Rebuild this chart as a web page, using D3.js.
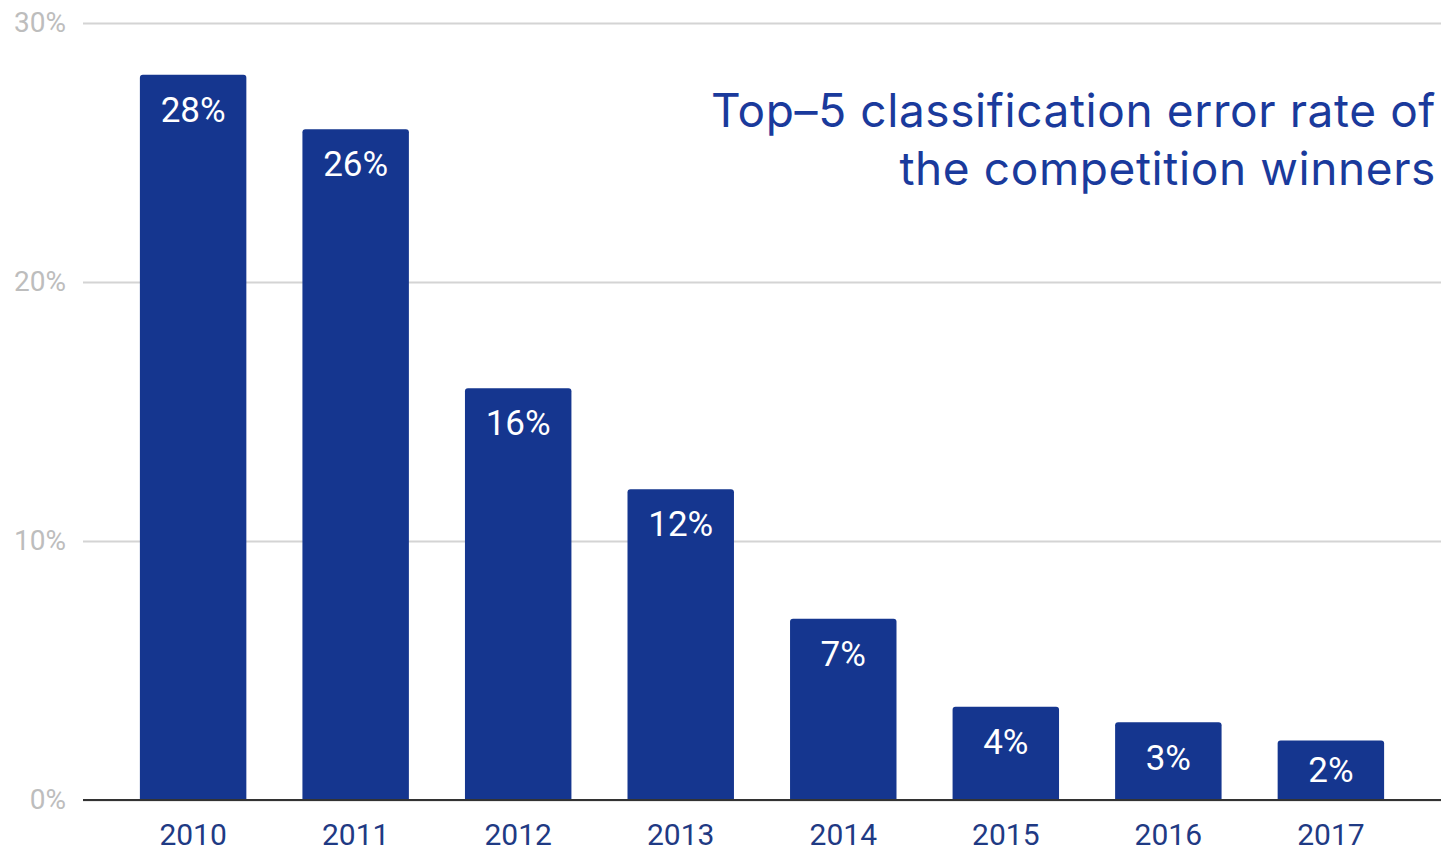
<!DOCTYPE html>
<html>
<head>
<meta charset="UTF-8">
<style>
  body { margin: 0; background: #fff; }
  svg { display: block; }
</style>
</head>
<body>
<div id="chart"></div>
<script src="https://cdn.jsdelivr.net/npm/d3@7"></script>
<script>
    var years = ["2010", "2011", "2012", "2013", "2014", "2015", "2016", "2017"];
    var errorRates = [28.0, 25.9, 15.9, 12.0, 7.0, 3.6, 3.0, 2.3];
    var yTicks = [0, 10, 20, 30];
    var titleLines = ["Top–5 classification error rate of", "the competition winners"];

    var width = 1447,
        height = 851,
        margin = {top: 23, right: 6, bottom: 51, left: 83};

    var data = years.map(function(y, i) { return {year: y, value: errorRates[i]}; });

    var svg = d3.select("#chart")
                .append("svg")
                  .attr("width", width)
                  .attr("height", height);

    var x = d3.scaleBand()
              .domain(years)
              .range([margin.left, width - margin.right])
              .paddingInner(0.345)
              .paddingOuter(0.35);

    var y = d3.scaleLinear()
              .domain([0, 30])
              .range([height - margin.bottom, margin.top]);

    // gridlines + y labels
    var yAxis = svg.append("g")
        .attr("transform", "translate(" + margin.left + ",0)")
        .call(d3.axisLeft(y).tickValues(yTicks)
                .tickSize(-(width - margin.left - margin.right))
                .tickFormat(function(d) { return d + "%"; }));
    yAxis.select(".domain").remove();
    yAxis.selectAll(".tick line").attr("stroke", "#d4d4d4").attr("stroke-width", 2);
    yAxis.selectAll(".tick text")
        .attr("x", -17)
        .attr("fill", "#bdbdbd")
        .style("font-family", "Roboto, sans-serif")
        .style("font-size", "28px");

    // bars with slightly rounded top corners
    var r = 3;
    svg.selectAll("path.bar")
        .data(data)
        .enter()
        .append("path")
        .attr("class", "bar")
        .attr("fill", "#15368f")
        .attr("d", function(d) {
            var x0 = x(d.year), x1 = x0 + x.bandwidth(),
                y0 = y(d.value), y1 = y(0);
            return "M" + x0 + "," + y1 +
                   "V" + (y0 + r) +
                   "Q" + x0 + "," + y0 + " " + (x0 + r) + "," + y0 +
                   "H" + (x1 - r) +
                   "Q" + x1 + "," + y0 + " " + x1 + "," + (y0 + r) +
                   "V" + y1 + "Z";
        });

    // value labels
    svg.selectAll("text.val")
        .data(data)
        .enter()
        .append("text")
        .attr("class", "val")
        .attr("x", function(d) { return x(d.year) + x.bandwidth() / 2; })
        .attr("y", function(d) {
            var top = y(d.value);
            return Math.min(top + 35, (top + y(0)) / 2);
        })
        .attr("dy", "0.35em")
        .attr("text-anchor", "middle")
        .attr("fill", "#fff")
        .style("font-family", "Roboto, sans-serif")
        .style("font-size", "35px")
        .text(function(d) { return Math.round(d.value) + "%"; });

    // baseline
    svg.append("line")
        .attr("x1", margin.left)
        .attr("x2", width - margin.right)
        .attr("y1", y(0))
        .attr("y2", y(0))
        .attr("stroke", "#333")
        .attr("stroke-width", 2);

    // x axis labels
    var xAxis = svg.append("g")
        .attr("transform", "translate(0," + y(0) + ")")
        .call(d3.axisBottom(x).tickSize(0).tickPadding(24));
    xAxis.select(".domain").remove();
    xAxis.selectAll(".tick text")
        .attr("fill", "#1f3a84")
        .style("font-family", "Roboto, sans-serif")
        .style("font-size", "30px");

    // title
    svg.append("text")
        .attr("x", 1436)
        .attr("y", 127)
        .attr("text-anchor", "end")
        .attr("fill", "#1a3a9c")
        .style("font-family", "Inter, sans-serif")
        .style("font-size", "46px")
        .style("letter-spacing", "0.6px")
        .selectAll("tspan")
        .data(titleLines)
        .enter()
        .append("tspan")
        .attr("x", 1436)
        .attr("dy", function(d, i) { return i ? 58 : 0; })
        .text(function(d) { return d; });
</script>
</body>
</html>
